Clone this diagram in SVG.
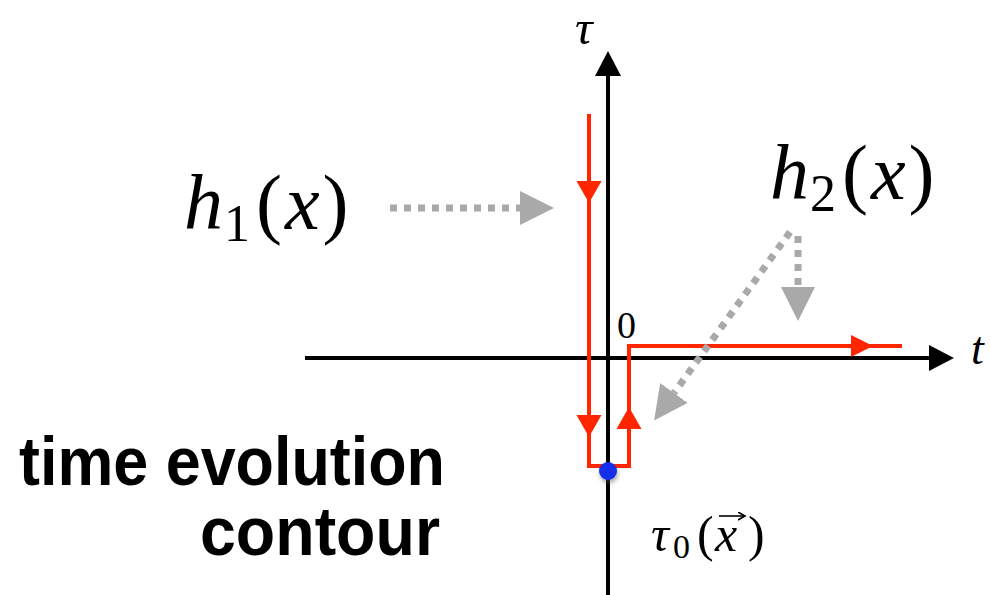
<svg xmlns="http://www.w3.org/2000/svg" width="990" height="595" viewBox="0 0 990 595">
  <style>
    .math { font-family: "Liberation Serif", "DejaVu Serif", serif; fill: #000; }
    .it { font-style: italic; }
    .bold { font-family: "Liberation Sans", Arial, sans-serif; font-weight: bold; fill: #000; }
    .axis { stroke: #000; stroke-width: 4; fill: none; }
    .red { stroke: #FF2600; stroke-width: 4; fill: none; stroke-linejoin: miter; }
    .redhead { fill: #FF2600; }
    .gray { stroke: #A9A9A9; stroke-width: 7; stroke-dasharray: 7 7; fill: none; }
  </style>
  <defs>
    <marker id="blackhead" markerUnits="userSpaceOnUse" markerWidth="26" markerHeight="26" refX="0" refY="13" orient="auto">
      <path d="M0,0 L25,13 L0,26 z" fill="#000"/>
    </marker>
    <marker id="grayhead" markerUnits="userSpaceOnUse" markerWidth="34" markerHeight="34" refX="0" refY="17" orient="auto">
      <path d="M0,0 L34,17 L0,34 z" fill="#A9A9A9"/>
    </marker>
    <marker id="vechead" markerUnits="userSpaceOnUse" markerWidth="10" markerHeight="10" refX="6" refY="4" orient="auto">
      <path d="M0,0 L7,4 L0,8" fill="none" stroke="#000" stroke-width="1.6"/>
    </marker>
    <filter id="shadow" x="-1" y="-1" width="3" height="3">
      <feGaussianBlur stdDeviation="2"/>
    </filter>
  </defs>

  <g id="axes">
    <line class="axis" x1="608" y1="595" x2="608" y2="76" marker-end="url(#blackhead)"/>
    <line class="axis" x1="305" y1="358" x2="929" y2="358" marker-end="url(#blackhead)"/>
  </g>

  <g id="contour">
    <path class="red" d="M589,114 L589,466 L629,466 L629,346 L902,346"/>
    <polygon class="redhead" points="576.5,181 601.5,181 589,203"/>
    <polygon class="redhead" points="576.5,415 601.5,415 589,437"/>
    <polygon class="redhead" points="616.5,429 641.5,429 629,407"/>
    <polygon class="redhead" points="851,335 851,357 873,346"/>
  </g>

  <g id="tau0-point">
    <circle cx="609" cy="474" r="9" fill="#555" opacity="0.5" filter="url(#shadow)"/>
    <circle cx="608" cy="471" r="9" fill="#1530E8"/>
  </g>

  <g id="connectors">
    <line class="gray" x1="390" y1="208" x2="520" y2="208" marker-end="url(#grayhead)"/>
    <line class="gray" x1="798" y1="236" x2="798" y2="287" marker-end="url(#grayhead)"/>
    <line class="gray" x1="790" y1="232" x2="674" y2="393" marker-end="url(#grayhead)"/>
  </g>

  <g id="label-tau">
    <text class="math it" x="575" y="44" font-size="49">τ</text>
  </g>
  <g id="label-t">
    <text class="math it" x="971" y="364" font-size="46">t</text>
  </g>
  <g id="label-zero">
    <text class="math" x="617" y="338" font-size="38">0</text>
  </g>
  <g id="label-h1">
    <text class="math" x="184" y="229" font-size="78"><tspan class="it">h</tspan><tspan font-size="52" dy="12" dx="1">1</tspan><tspan dy="-12" dx="6">(</tspan><tspan class="it" dx="3">x</tspan><tspan dx="3">)</tspan></text>
  </g>
  <g id="label-h2">
    <text class="math" x="770" y="199" font-size="78"><tspan class="it">h</tspan><tspan font-size="52" dy="12" dx="1">2</tspan><tspan dy="-12" dx="6">(</tspan><tspan class="it" dx="3">x</tspan><tspan dx="3">)</tspan></text>
  </g>
  <g id="label-tau0">
    <text class="math" y="551" font-size="50"><tspan class="it" x="651">τ</tspan><tspan font-size="34" x="673" dy="7">0</tspan><tspan x="697" dy="-7">(</tspan><tspan class="it" x="715">x</tspan><tspan x="748">)</tspan></text>
    <line x1="719" y1="516" x2="744" y2="516" stroke="#000" stroke-width="1.6" marker-end="url(#vechead)"/>
  </g>
  <g id="label-time-evolution">
    <text class="bold" x="19" y="485" font-size="68" textLength="426" lengthAdjust="spacingAndGlyphs">time evolution</text>
    <text class="bold" x="200" y="555" font-size="68" textLength="240" lengthAdjust="spacingAndGlyphs">contour</text>
  </g>
</svg>
